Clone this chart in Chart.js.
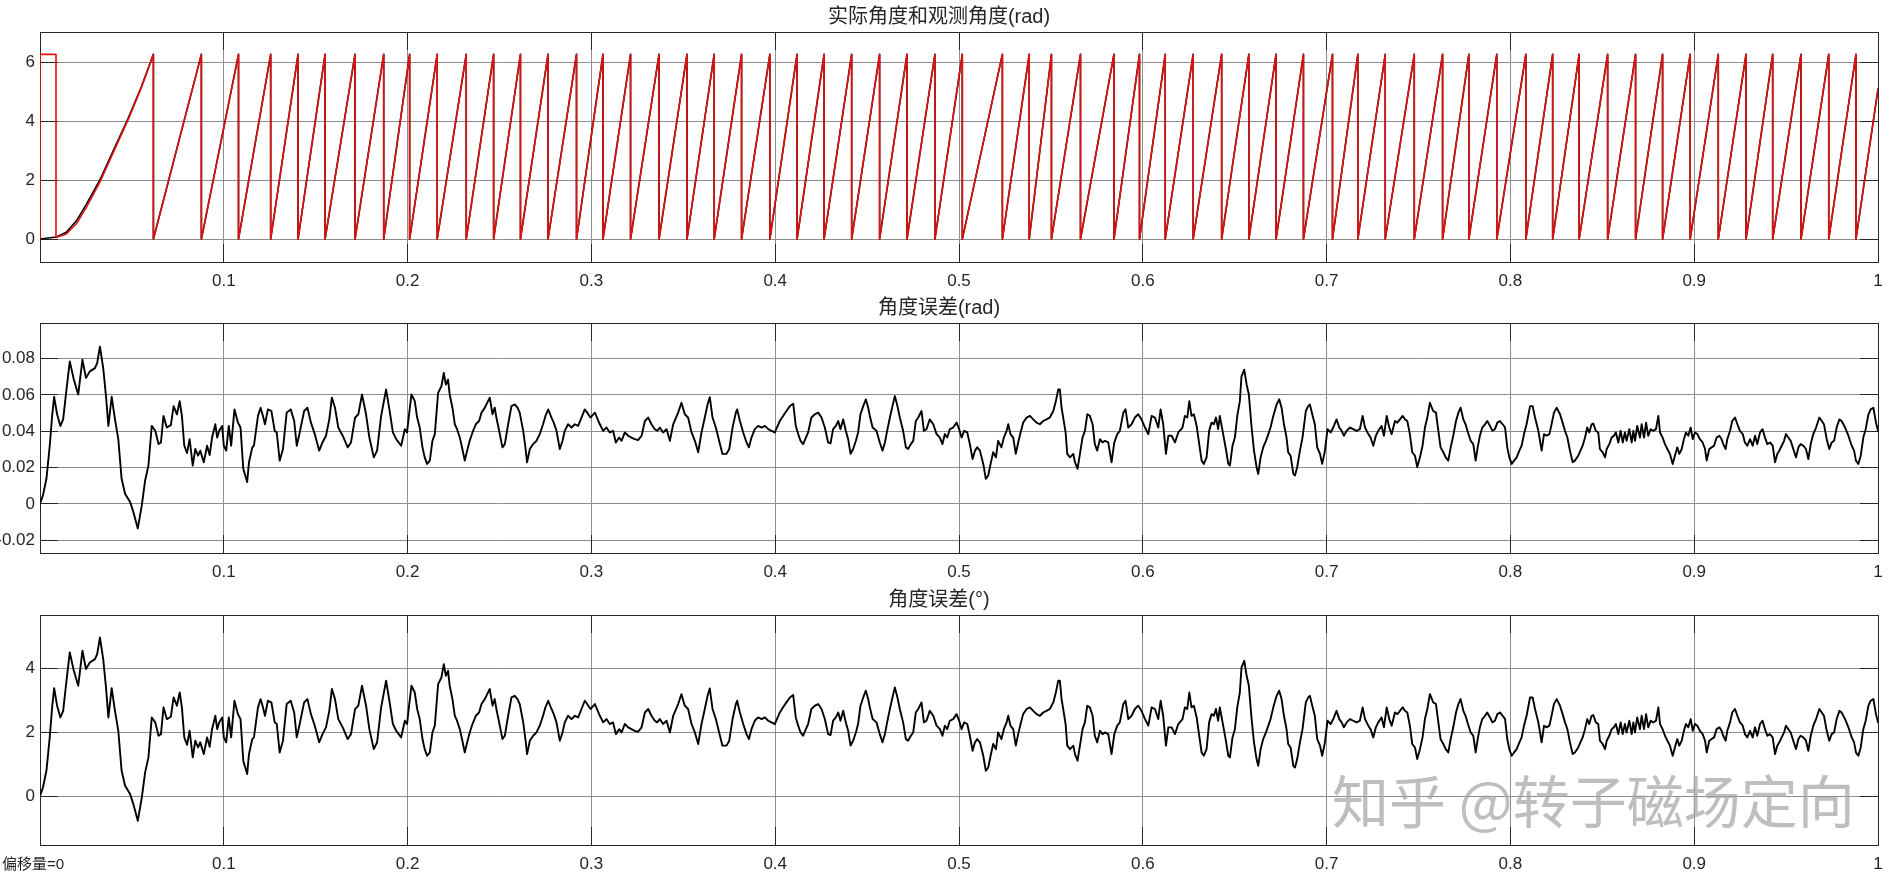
<!DOCTYPE html>
<html>
<head>
<meta charset="utf-8">
<script src="https://cdn.jsdelivr.net/npm/chart.js@4.4.0/dist/chart.umd.min.js"></script>
<style>
  html, body { margin: 0; padding: 0; background: #fff; }
  #page { position: relative; width: 1898px; height: 876px; overflow: hidden; background: #fff; }
  #page canvas { position: absolute; left: 0; }
  .note { position: absolute; font-family: "Liberation Sans", "Noto Sans CJK SC", sans-serif; white-space: nowrap; }
</style>
</head>
<body>
<div id="page">
  <canvas id="cAngle" width="1898" height="300" style="top:0px"></canvas>
  <canvas id="cErrRad" width="1898" height="300" style="top:291px"></canvas>
  <canvas id="cErrDeg" width="1898" height="300" style="top:583px"></canvas>
  <div class="note" id="offset" style="left:2px; top:852px; font-size:15px; color:#262626;">偏移量=0</div>
  <div class="note" id="mark" style="left:1332px; top:770px; font-size:57px; line-height:1; color:rgba(165,165,165,0.72); font-family:'Noto Sans CJK SC', sans-serif;">知乎 @转子磁场定向</div>
</div>
<script>
'use strict'

// ------------------------- titles / ticks -------------------------
const angleTitle = '实际角度和观测角度(rad)';
const errRadTitle = '角度误差(rad)';
const errDegTitle = '角度误差(°)';

const xTickValues = [0.1, 0.2, 0.3, 0.4, 0.5, 0.6, 0.7, 0.8, 0.9, 1];
const xTickLabels = ['0.1', '0.2', '0.3', '0.4', '0.5', '0.6', '0.7', '0.8', '0.9', '1'];

const angleTickValues = [0, 2, 4, 6];
const angleTickLabels = ['0', '2', '4', '6'];
const errRadTickValues = [-0.02, 0, 0.02, 0.04, 0.06, 0.08];
const errRadTickLabels = ['-0.02', '0', '0.02', '0.04', '0.06', '0.08'];
const errDegTickValues = [0, 2, 4];
const errDegTickLabels = ['0', '2', '4'];

// ------------------------- angle (top) -------------------------
// start-up ramp of the actual angle (black) and the observed angle (red)
const actualStartTime = [0, 0.0089, 0.0143, 0.0198, 0.0252, 0.0325, 0.0397, 0.0479, 0.0551, 0.0617];
const actualStartRad  = [0, 0.07, 0.23, 0.62, 1.18, 2.0, 2.98, 4.1, 5.17, 6.28];
const observedStartTime = [0, 0, 0.0087, 0.0087, 0.0143, 0.0198, 0.0252, 0.0325, 0.0397, 0.0479, 0.0551, 0.0617];
const observedStartRad  = [0, 6.28, 6.28, 0.05, 0.17, 0.52, 1.08, 1.93, 2.92, 4.05, 5.14, 6.28];

// times where the angle reaches 2*pi and wraps back to 0
const wrapTimes = [
    0.0617, 0.0878, 0.1080, 0.1255, 0.1404, 0.1551, 0.1714, 0.1870, 0.2011, 0.2161,
    0.2319, 0.2468, 0.2614, 0.2764, 0.2919, 0.3063, 0.3213, 0.3368, 0.3520, 0.3668,
    0.3817, 0.3971, 0.4119, 0.4266, 0.4416, 0.4568, 0.4717, 0.4869, 0.5018, 0.5236,
    0.5382, 0.5503, 0.5661, 0.5843, 0.5982, 0.6122, 0.6274, 0.6429, 0.6577, 0.6725,
    0.6874, 0.7032, 0.7170, 0.7319, 0.7477, 0.7631, 0.7774, 0.7926, 0.8084, 0.8230,
    0.8374, 0.8529, 0.8681, 0.8828, 0.8978, 0.9131, 0.9282, 0.9427, 0.9581, 0.9732,
    0.9880
];
const wrapTop = 6.28;
const endTime = 1.0;
const endAngle = 5.1;

// ------------------------- angle error -------------------------
const errTime = [
    // 0 - 0.2
    0, 0.0016, 0.0035, 0.0053, 0.0066, 0.0077, 0.0093, 0.0111, 0.0126, 0.0144,
    0.0162, 0.0184, 0.0208, 0.0231, 0.0250, 0.0271, 0.0299, 0.0311, 0.0326, 0.0344,
    0.0359, 0.0372, 0.0390, 0.0408, 0.0426, 0.0444, 0.0463, 0.0490, 0.0508, 0.0532,
    0.0554, 0.0572, 0.0590, 0.0608, 0.0627, 0.0645, 0.0658, 0.0672, 0.0690, 0.0712,
    0.0727, 0.0745, 0.0760, 0.0772, 0.0785, 0.0800, 0.0814, 0.0831, 0.0845, 0.0860,
    0.0872, 0.0891, 0.0909, 0.0923, 0.0936, 0.0954, 0.0964, 0.0975, 0.0991, 0.1000,
    0.1013, 0.1027, 0.1040, 0.1058, 0.1077, 0.1091, 0.1106, 0.1127, 0.1137, 0.1155,
    0.1164, 0.1186, 0.1200, 0.1213, 0.1224, 0.1240, 0.1259, 0.1277, 0.1288, 0.1304,
    0.1322, 0.1342, 0.1364, 0.1383, 0.1397, 0.1413, 0.1437, 0.1455, 0.1474, 0.1495,
    0.1519, 0.1537, 0.1556, 0.1574, 0.1588, 0.1605, 0.1623, 0.1647, 0.1674, 0.1692,
    0.1714, 0.1732, 0.1752, 0.1774, 0.1792, 0.1816, 0.1834, 0.1856, 0.1883, 0.1901,
    0.1920, 0.1938, 0.1965,
    // 0.2 - 0.4
    0.1985, 0.1997, 0.2008, 0.2021, 0.2039, 0.2052, 0.2066, 0.2081, 0.2093, 0.2106,
    0.2121, 0.2135, 0.2148, 0.2166, 0.2184, 0.2197, 0.2208, 0.2220, 0.2229, 0.2244,
    0.2257, 0.2269, 0.2284, 0.2298, 0.2311, 0.2324, 0.2338, 0.2353, 0.2371, 0.2389,
    0.2402, 0.2420, 0.2433, 0.2447, 0.2462, 0.2474, 0.2483, 0.2498, 0.2516, 0.2529,
    0.2547, 0.2565, 0.2583, 0.2598, 0.2610, 0.2629, 0.2641, 0.2650, 0.2665, 0.2683,
    0.2701, 0.2719, 0.2737, 0.2750, 0.2765, 0.2783, 0.2795, 0.2810, 0.2828, 0.2843,
    0.2855, 0.2873, 0.2892, 0.2910, 0.2928, 0.2946, 0.2964, 0.2977, 0.2995, 0.3019,
    0.3046, 0.3064, 0.3082, 0.3100, 0.3118, 0.3133, 0.3151, 0.3164, 0.3182, 0.3200,
    0.3218, 0.3236, 0.3254, 0.3273, 0.3291, 0.3309, 0.3327, 0.3345, 0.3358, 0.3372,
    0.3390, 0.3409, 0.3427, 0.3445, 0.3472, 0.3490, 0.3508, 0.3526, 0.3545, 0.3563,
    0.3581, 0.3599, 0.3617, 0.3632, 0.3644, 0.3659, 0.3677, 0.3695, 0.3713, 0.3735,
    0.3750, 0.3768, 0.3786, 0.3793, 0.3808, 0.3826, 0.3844, 0.3857, 0.3871, 0.3889,
    0.3907, 0.3926, 0.3944, 0.3962, 0.3980, 0.3998, 0.4025,
    // 0.4 - 0.62
    0.4043, 0.4061, 0.4080, 0.4098, 0.4112, 0.4125, 0.4138, 0.4152, 0.4167, 0.4179,
    0.4197, 0.4216, 0.4234, 0.4252, 0.4270, 0.4288, 0.4301, 0.4315, 0.4330, 0.4343,
    0.4355, 0.4370, 0.4384, 0.4397, 0.4410, 0.4424, 0.4439, 0.4451, 0.4464, 0.4479,
    0.4493, 0.4506, 0.4515, 0.4530, 0.4551, 0.4569, 0.4584, 0.4597, 0.4609, 0.4624,
    0.4638, 0.4651, 0.4665, 0.4678, 0.4696, 0.4711, 0.4723, 0.4738, 0.4751, 0.4765,
    0.4778, 0.4796, 0.4809, 0.4823, 0.4841, 0.4860, 0.4878, 0.4896, 0.4910, 0.4923,
    0.4936, 0.4950, 0.4968, 0.4987, 0.5001, 0.5014, 0.5028, 0.5045, 0.5059, 0.5074,
    0.5087, 0.5099, 0.5114, 0.5132, 0.5146, 0.5159, 0.5172, 0.5186, 0.5201, 0.5213,
    0.5231, 0.5244, 0.5259, 0.5268, 0.5280, 0.5295, 0.5309, 0.5322, 0.5335, 0.5349,
    0.5368, 0.5386, 0.5404, 0.5422, 0.5440, 0.5458, 0.5476, 0.5494, 0.5513, 0.5527,
    0.5540, 0.5549, 0.5558, 0.5567, 0.5580, 0.5589, 0.5604, 0.5622, 0.5631, 0.5645,
    0.5658, 0.5672, 0.5685, 0.5698, 0.5712, 0.5727, 0.5739, 0.5752, 0.5767, 0.5781,
    0.5794, 0.5812, 0.5830, 0.5845, 0.5861, 0.5875, 0.5894, 0.5906, 0.5921, 0.5939,
    0.5957, 0.5975, 0.5993, 0.6012, 0.6030, 0.6048, 0.6066, 0.6084, 0.6097, 0.6111,
    0.6126, 0.6139, 0.6157, 0.6175, 0.6193,
    // 0.62 - 0.84
    0.6216, 0.6229, 0.6242, 0.6253, 0.6265, 0.6278, 0.6293, 0.6307, 0.6320, 0.6332,
    0.6347, 0.6361, 0.6374, 0.6387, 0.6398, 0.6410, 0.6419, 0.6434, 0.6452, 0.6465,
    0.6474, 0.6488, 0.6501, 0.6514, 0.6528, 0.6537, 0.6552, 0.6565, 0.6577, 0.6592,
    0.6605, 0.6619, 0.6628, 0.6641, 0.6655, 0.6670, 0.6683, 0.6695, 0.6710, 0.6728,
    0.6742, 0.6755, 0.6768, 0.6782, 0.6791, 0.6804, 0.6819, 0.6828, 0.6840, 0.6855,
    0.6869, 0.6887, 0.6900, 0.6909, 0.6922, 0.6936, 0.6949, 0.6964, 0.6976, 0.6991,
    0.7005, 0.7022, 0.7036, 0.7054, 0.7069, 0.7082, 0.7094, 0.7109, 0.7127, 0.7145,
    0.7163, 0.7181, 0.7196, 0.7209, 0.7227, 0.7239, 0.7254, 0.7268, 0.7281, 0.7299,
    0.7312, 0.7327, 0.7341, 0.7354, 0.7372, 0.7385, 0.7399, 0.7414, 0.7426, 0.7439,
    0.7453, 0.7466, 0.7481, 0.7493, 0.7508, 0.7522, 0.7535, 0.7548, 0.7562, 0.7580,
    0.7595, 0.7608, 0.7620, 0.7635, 0.7648, 0.7662, 0.7675, 0.7689, 0.7704, 0.7717,
    0.7729, 0.7744, 0.7756, 0.7769, 0.7784, 0.7798, 0.7811, 0.7822, 0.7834, 0.7847,
    0.7862, 0.7874, 0.7889, 0.7902, 0.7916, 0.7929, 0.7943, 0.7958, 0.7971, 0.7983,
    0.7994, 0.8007, 0.8020, 0.8034, 0.8049, 0.8061, 0.8074, 0.8088, 0.8107, 0.8121,
    0.8134, 0.8152, 0.8170, 0.8183, 0.8197, 0.8212, 0.8224, 0.8237, 0.8252, 0.8270,
    0.8284, 0.8297, 0.8310, 0.8324, 0.8339, 0.8351, 0.8369,
    // 0.84 - 1
    0.8393, 0.8406, 0.8418, 0.8429, 0.8442, 0.8451, 0.8465, 0.8478, 0.8487, 0.8502,
    0.8515, 0.8524, 0.8538, 0.8551, 0.8563, 0.8574, 0.8587, 0.8600, 0.8611, 0.8623,
    0.8632, 0.8647, 0.8660, 0.8669, 0.8678, 0.8690, 0.8705, 0.8714, 0.8727, 0.8738,
    0.8750, 0.8763, 0.8777, 0.8792, 0.8805, 0.8814, 0.8828, 0.8841, 0.8854, 0.8868,
    0.8883, 0.8895, 0.8908, 0.8919, 0.8932, 0.8944, 0.8955, 0.8968, 0.8981, 0.8992,
    0.9004, 0.9017, 0.9031, 0.9046, 0.9059, 0.9068, 0.9082, 0.9095, 0.9108, 0.9122,
    0.9137, 0.9149, 0.9158, 0.9171, 0.9180, 0.9195, 0.9207, 0.9222, 0.9235, 0.9249,
    0.9264, 0.9276, 0.9289, 0.9304, 0.9318, 0.9331, 0.9343, 0.9358, 0.9372, 0.9385,
    0.9398, 0.9412, 0.9427, 0.9440, 0.9452, 0.9463, 0.9476, 0.9489, 0.9499, 0.9512,
    0.9525, 0.9539, 0.9554, 0.9567, 0.9579, 0.9594, 0.9608, 0.9621, 0.9634, 0.9648,
    0.9663, 0.9681, 0.9694, 0.9706, 0.9721, 0.9735, 0.9748, 0.9761, 0.9775, 0.9790,
    0.9802, 0.9821, 0.9839, 0.9857, 0.9870, 0.9880, 0.9893, 0.9906, 0.9920, 0.9933,
    0.9948, 0.9960, 0.9975, 0.9989, 1.0000
];

const errRad = [
    // 0 - 0.2
    0, 0.0047, 0.0138, 0.0320, 0.0484, 0.0589, 0.0493, 0.0429, 0.0465, 0.0629,
    0.0784, 0.0684, 0.0602, 0.0793, 0.0693, 0.0729, 0.0747, 0.0774, 0.0865, 0.0747,
    0.0593, 0.0429, 0.0589, 0.0465, 0.0356, 0.0138, 0.0056, 0.0011, -0.0044, -0.0135,
    -0.0007, 0.0129, 0.0211, 0.0429, 0.0402, 0.0329, 0.0338, 0.0484, 0.0420, 0.0433,
    0.0538, 0.0493, 0.0565, 0.0484, 0.0320, 0.0280, 0.0356, 0.0211, 0.0302, 0.0265,
    0.0293, 0.0229, 0.0320, 0.0269, 0.0365, 0.0438, 0.0365, 0.0402, 0.0429, 0.0320,
    0.0293, 0.0429, 0.0320, 0.0520, 0.0447, 0.0420, 0.0193, 0.0120, 0.0229, 0.0311,
    0.0320, 0.0484, 0.0529, 0.0484, 0.0438, 0.0520, 0.0511, 0.0402, 0.0393, 0.0238,
    0.0302, 0.0502, 0.0520, 0.0456, 0.0320, 0.0393, 0.0511, 0.0529, 0.0447, 0.0384,
    0.0293, 0.0338, 0.0375, 0.0465, 0.0584, 0.0529, 0.0420, 0.0375, 0.0311, 0.0338,
    0.0474, 0.0493, 0.0602, 0.0493, 0.0365, 0.0256, 0.0293, 0.0484, 0.0629, 0.0520,
    0.0393, 0.0356, 0.0320,
    // 0.2 - 0.4
    0.0411, 0.0393, 0.0493, 0.0602, 0.0565, 0.0475, 0.0420, 0.0311, 0.0256, 0.0220,
    0.0238, 0.0347, 0.0384, 0.0611, 0.0647, 0.0720, 0.0656, 0.0684, 0.0602, 0.0529,
    0.0438, 0.0411, 0.0365, 0.0302, 0.0238, 0.0293, 0.0347, 0.0393, 0.0438, 0.0456,
    0.0502, 0.0529, 0.0556, 0.0584, 0.0493, 0.0529, 0.0475, 0.0402, 0.0311, 0.0329,
    0.0438, 0.0538, 0.0547, 0.0529, 0.0502, 0.0402, 0.0311, 0.0229, 0.0302, 0.0329,
    0.0347, 0.0384, 0.0438, 0.0484, 0.0520, 0.0475, 0.0447, 0.0402, 0.0302, 0.0347,
    0.0402, 0.0438, 0.0420, 0.0438, 0.0429, 0.0475, 0.0520, 0.0502, 0.0475, 0.0502,
    0.0438, 0.0402, 0.0420, 0.0393, 0.0402, 0.0338, 0.0365, 0.0347, 0.0393, 0.0375,
    0.0365, 0.0356, 0.0351, 0.0375, 0.0456, 0.0475, 0.0438, 0.0411, 0.0402, 0.0420,
    0.0393, 0.0411, 0.0347, 0.0438, 0.0502, 0.0556, 0.0493, 0.0475, 0.0393, 0.0347,
    0.0284, 0.0393, 0.0475, 0.0547, 0.0587, 0.0475, 0.0420, 0.0347, 0.0275, 0.0275,
    0.0302, 0.0420, 0.0502, 0.0520, 0.0456, 0.0393, 0.0338, 0.0311, 0.0365, 0.0411,
    0.0429, 0.0420, 0.0429, 0.0411, 0.0402, 0.0393, 0.0456,
    // 0.4 - 0.62
    0.0484, 0.0511, 0.0538, 0.0551, 0.0429, 0.0384, 0.0347, 0.0329, 0.0365, 0.0393,
    0.0475, 0.0493, 0.0502, 0.0475, 0.0420, 0.0338, 0.0333, 0.0411, 0.0429, 0.0456,
    0.0411, 0.0465, 0.0402, 0.0356, 0.0275, 0.0302, 0.0347, 0.0393, 0.0493, 0.0538,
    0.0575, 0.0529, 0.0484, 0.0420, 0.0402, 0.0338, 0.0293, 0.0338, 0.0402, 0.0475,
    0.0538, 0.0593, 0.0538, 0.0475, 0.0402, 0.0311, 0.0302, 0.0329, 0.0347, 0.0456,
    0.0475, 0.0511, 0.0402, 0.0411, 0.0465, 0.0438, 0.0384, 0.0365, 0.0329, 0.0384,
    0.0365, 0.0411, 0.0420, 0.0447, 0.0411, 0.0365, 0.0402, 0.0393, 0.0329, 0.0247,
    0.0293, 0.0311, 0.0293, 0.0220, 0.0138, 0.0156, 0.0220, 0.0284, 0.0256, 0.0347,
    0.0311, 0.0365, 0.0402, 0.0438, 0.0384, 0.0365, 0.0275, 0.0338, 0.0393, 0.0447,
    0.0475, 0.0484, 0.0465, 0.0447, 0.0438, 0.0456, 0.0465, 0.0475, 0.0511, 0.0565,
    0.0629, 0.0629, 0.0529, 0.0475, 0.0393, 0.0275, 0.0256, 0.0275, 0.0229, 0.0193,
    0.0275, 0.0365, 0.0402, 0.0493, 0.0484, 0.0438, 0.0329, 0.0293, 0.0356, 0.0338,
    0.0347, 0.0338, 0.0229, 0.0338, 0.0384, 0.0402, 0.0502, 0.0520, 0.0420, 0.0438,
    0.0475, 0.0493, 0.0465, 0.0420, 0.0384, 0.0484, 0.0475, 0.0420, 0.0520, 0.0438,
    0.0275, 0.0375, 0.0375, 0.0338, 0.0393,
    // 0.62 - 0.84
    0.0420, 0.0484, 0.0475, 0.0565, 0.0484, 0.0493, 0.0429, 0.0329, 0.0238, 0.0220,
    0.0256, 0.0402, 0.0447, 0.0438, 0.0475, 0.0411, 0.0484, 0.0402, 0.0302, 0.0220,
    0.0211, 0.0320, 0.0365, 0.0484, 0.0565, 0.0702, 0.0738, 0.0656, 0.0602, 0.0420,
    0.0293, 0.0202, 0.0165, 0.0256, 0.0311, 0.0347, 0.0384, 0.0420, 0.0484, 0.0547,
    0.0575, 0.0529, 0.0438, 0.0365, 0.0284, 0.0265, 0.0165, 0.0156, 0.0202, 0.0293,
    0.0365, 0.0511, 0.0538, 0.0547, 0.0493, 0.0438, 0.0311, 0.0275, 0.0220, 0.0293,
    0.0411, 0.0393, 0.0420, 0.0465, 0.0420, 0.0402, 0.0375, 0.0402, 0.0420, 0.0411,
    0.0402, 0.0411, 0.0484, 0.0420, 0.0384, 0.0365, 0.0320, 0.0375, 0.0402, 0.0429,
    0.0375, 0.0484, 0.0420, 0.0384, 0.0456, 0.0447, 0.0465, 0.0484, 0.0465, 0.0456,
    0.0384, 0.0284, 0.0265, 0.0202, 0.0256, 0.0320, 0.0420, 0.0475, 0.0556, 0.0511,
    0.0502, 0.0402, 0.0311, 0.0284, 0.0256, 0.0238, 0.0311, 0.0375, 0.0456, 0.0502,
    0.0529, 0.0465, 0.0438, 0.0393, 0.0347, 0.0329, 0.0238, 0.0311, 0.0375, 0.0420,
    0.0438, 0.0456, 0.0429, 0.0402, 0.0411, 0.0447, 0.0456, 0.0438, 0.0420, 0.0311,
    0.0256, 0.0220, 0.0238, 0.0256, 0.0293, 0.0320, 0.0384, 0.0438, 0.0538, 0.0538,
    0.0475, 0.0402, 0.0293, 0.0384, 0.0375, 0.0384, 0.0438, 0.0502, 0.0529, 0.0493,
    0.0447, 0.0402, 0.0365, 0.0293, 0.0229, 0.0238, 0.0265,
    // 0.84 - 1
    0.0320, 0.0365, 0.0420, 0.0393, 0.0438, 0.0442, 0.0402, 0.0393, 0.0302, 0.0284,
    0.0256, 0.0302, 0.0329, 0.0365, 0.0375, 0.0393, 0.0338, 0.0402, 0.0338, 0.0393,
    0.0347, 0.0411, 0.0338, 0.0402, 0.0347, 0.0429, 0.0365, 0.0438, 0.0365, 0.0447,
    0.0375, 0.0411, 0.0402, 0.0411, 0.0484, 0.0393, 0.0365, 0.0329, 0.0302, 0.0275,
    0.0220, 0.0265, 0.0311, 0.0275, 0.0302, 0.0356, 0.0393, 0.0375, 0.0420, 0.0356,
    0.0393, 0.0384, 0.0356, 0.0338, 0.0302, 0.0238, 0.0302, 0.0311, 0.0320, 0.0365,
    0.0375, 0.0356, 0.0329, 0.0302, 0.0356, 0.0402, 0.0456, 0.0475, 0.0438, 0.0402,
    0.0384, 0.0338, 0.0320, 0.0356, 0.0320, 0.0375, 0.0329, 0.0393, 0.0411, 0.0365,
    0.0329, 0.0338, 0.0320, 0.0229, 0.0275, 0.0293, 0.0320, 0.0347, 0.0384, 0.0365,
    0.0347, 0.0302, 0.0256, 0.0311, 0.0329, 0.0320, 0.0302, 0.0247, 0.0329, 0.0384,
    0.0420, 0.0475, 0.0456, 0.0438, 0.0356, 0.0302, 0.0338, 0.0347, 0.0420, 0.0465,
    0.0456, 0.0420, 0.0375, 0.0320, 0.0293, 0.0238, 0.0220, 0.0265, 0.0365, 0.0411,
    0.0493, 0.0520, 0.0529, 0.0447, 0.0402
];

// ------------------------- styles -------------------------
const axisInk = '#262626';
const gridInk = '#8e8e8e';
const redLine = '#e01010';
const tickFont = { family: '"Liberation Sans", Arial, sans-serif', size: 17 };
const titleFont = { family: '"Liberation Sans", "Noto Sans CJK SC", sans-serif', size: 20, weight: 'normal' };

// ------------------------- helpers -------------------------
function toPoints(xs, ys) {
    let pts = [];
    let n = Math.min(xs.length, ys.length);
    for (let i = 0; i < n; i++) {
        pts.push({ x: xs[i], y: ys[i] });
    }
    return pts;
}

function sawtooth(startTime, startRad) {
    let pts = toPoints(startTime, startRad);
    for (let t of wrapTimes) {
        pts.push({ x: t, y: wrapTop });
        pts.push({ x: t, y: 0 });
    }
    pts.push({ x: endTime, y: endAngle });
    return pts;
}

function alignPx(p) {
    return Math.round(p - 0.5) + 0.5;
}

// scope style frame with inward ticks
const scopeFrame = {
    id: 'scopeFrame',
    beforeDatasetsDraw(chart) {
        const ctx = chart.ctx;
        const a = chart.chartArea;
        const sx = chart.scales.x;
        const sy = chart.scales.y;
        ctx.save();
        ctx.strokeStyle = axisInk;
        ctx.lineWidth = 1;
        ctx.beginPath();
        for (let t of sy.ticks) {
            let y = alignPx(sy.getPixelForValue(t.value));
            ctx.moveTo(a.left, y); ctx.lineTo(a.left + 18, y);
            ctx.moveTo(a.right - 18, y); ctx.lineTo(a.right, y);
        }
        for (let t of sx.ticks) {
            let x = alignPx(sx.getPixelForValue(t.value));
            ctx.moveTo(x, a.top); ctx.lineTo(x, a.top + 18);
            ctx.moveTo(x, a.bottom - 18); ctx.lineTo(x, a.bottom);
        }
        ctx.stroke();
        ctx.strokeRect(alignPx(a.left), alignPx(a.top), Math.round(a.right - a.left), Math.round(a.bottom - a.top));
        ctx.restore();
    }
};

function makeOptions(title, yMin, yMax, yValues, yLabels) {
    return {
        responsive: false,
        animation: false,
        devicePixelRatio: 1,
        layout: { padding: { left: 0, right: 20, top: 0, bottom: 0 } },
        elements: {
            point: { radius: 0 },
            line: { tension: 0, borderJoinStyle: 'round', borderCapStyle: 'round' }
        },
        plugins: {
            legend: { display: false },
            tooltip: { enabled: false },
            title: {
                display: true,
                text: title,
                color: axisInk,
                font: titleFont,
                padding: { top: 5, bottom: 3 }
            }
        },
        scales: {
            x: {
                type: 'linear',
                min: 0,
                max: 1,
                afterBuildTicks: (s) => { s.ticks = xTickValues.map(v => ({ value: v })); },
                afterFit: (s) => { s.height = 38; },
                grid: { color: gridInk, lineWidth: 1, drawTicks: false },
                border: { display: false },
                ticks: {
                    color: axisInk,
                    font: tickFont,
                    padding: 9,
                    maxRotation: 0,
                    autoSkip: false,
                    callback: (v, i) => xTickLabels[i]
                }
            },
            y: {
                type: 'linear',
                min: yMin,
                max: yMax,
                afterBuildTicks: (s) => { s.ticks = yValues.map(v => ({ value: v })); },
                afterFit: (s) => { s.width = 40; },
                grid: { color: gridInk, lineWidth: 1, drawTicks: false },
                border: { display: false },
                ticks: {
                    color: axisInk,
                    font: tickFont,
                    padding: 5,
                    callback: (v, i) => yLabels[i]
                }
            }
        }
    };
}

// ------------------------- charts -------------------------
new Chart(document.getElementById('cAngle'), {
    type: 'line',
    data: {
        datasets: [
            {
                label: 'observed',
                data: sawtooth(observedStartTime, observedStartRad),
                borderColor: redLine,
                borderWidth: 1.6,
                order: 0
            },
            {
                label: 'actual',
                data: sawtooth(actualStartTime, actualStartRad),
                borderColor: '#000000',
                borderWidth: 1.6,
                order: 1
            }
        ]
    },
    options: makeOptions(angleTitle, -0.78, 7.04, angleTickValues, angleTickLabels),
    plugins: [scopeFrame]
});

new Chart(document.getElementById('cErrRad'), {
    type: 'line',
    data: {
        datasets: [{
            label: 'error rad',
            data: toPoints(errTime, errRad),
            borderColor: '#000000',
            borderWidth: 1.9
        }]
    },
    options: makeOptions(errRadTitle, -0.027, 0.0995, errRadTickValues, errRadTickLabels),
    plugins: [scopeFrame]
});

// same error, shown in degrees
const errDeg = errRad.map(v => v * 180 / Math.PI);

new Chart(document.getElementById('cErrDeg'), {
    type: 'line',
    data: {
        datasets: [{
            label: 'error deg',
            data: toPoints(errTime, errDeg),
            borderColor: '#000000',
            borderWidth: 1.9
        }]
    },
    options: makeOptions(errDegTitle, -1.53, 5.66, errDegTickValues, errDegTickLabels),
    plugins: [scopeFrame]
});
</script>
</body>
</html>
